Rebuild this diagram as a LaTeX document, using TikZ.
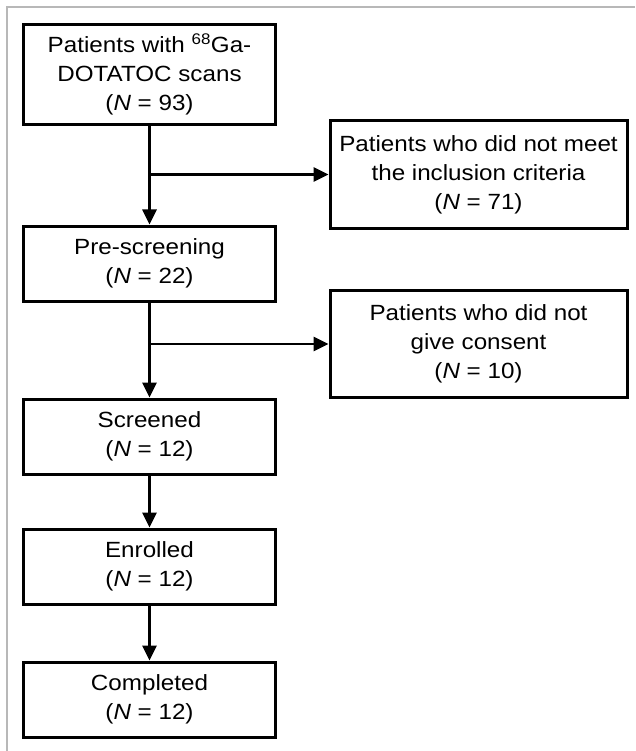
\documentclass[tikz,border=0pt]{standalone}
\usepackage{fontspec}
\setmainfont[FakeStretch=1.1]{Liberation Sans}
\usepackage{tikz}
\usetikzlibrary{arrows.meta}
\definecolor{frameline}{rgb}{0.72,0.72,0.72}
\tikzstyle{stagebox}=[rectangle, draw, line width=3pt, minimum width=252pt, minimum height=75pt, align=center, font=\fontsize{22}{29}\selectfont]
\tikzstyle{dropbox}=[stagebox, minimum width=297pt, minimum height=107pt]
\tikzstyle{flowarrow}=[line width=2.6pt, -{Triangle[length=15pt,width=14pt]}]
\newcommand{\stagebox}[3]{
	\node[stagebox] (#1) at (#2) {#3};}
\newcommand{\dropbox}[3]{
	\node[dropbox] (#1) at (#2) {#3};}

\begin{document}
\begin{tikzpicture}[x=1pt,y=1pt]
	\useasboundingbox (0,0) rectangle (635,-751);
	\draw[frameline, line width=2pt] (7,-751) -- (7,-7) -- (635,-7);
	
	\node[stagebox, minimum height=100pt] (scans) at (149.5,-74.5) {Patients with \textsuperscript{68}Ga-\\DOTATOC scans\\(\textit{N} = 93)};
	\stagebox{prescreen}{149.5,-263.5}{Pre-screening\\(\textit{N} = 22)}
	\stagebox{screened}{149.5,-436.5}{Screened\\(\textit{N} = 12)}
	\stagebox{enrolled}{149.5,-566.5}{Enrolled\\(\textit{N} = 12)}
	\stagebox{completed}{149.5,-699.5}{Completed\\(\textit{N} = 12)}
	
	\dropbox{criteria}{478.5,-174.5}{Patients who did not meet\\the inclusion criteria\\(\textit{N} = 71)}
	\dropbox{consent}{478.5,-344}{Patients who did not\\give consent\\(\textit{N} = 10)}
	
	\coordinate (split1) at (149.5,-174.5);
	\coordinate (split2) at (149.5,-344);
	
	\draw[line width=2.6pt] (scans) -- (split1);
	\draw[flowarrow] (split1) -- (prescreen);
	\draw[flowarrow] (split1) -- (criteria);
	\draw[line width=2.6pt] (prescreen) -- (split2);
	\draw[flowarrow] (split2) -- (screened);
	\draw[flowarrow] (split2) -- (consent);
	\draw[flowarrow] (screened) -- (enrolled);
	\draw[flowarrow] (enrolled) -- (completed);
\end{tikzpicture}
\end{document}
